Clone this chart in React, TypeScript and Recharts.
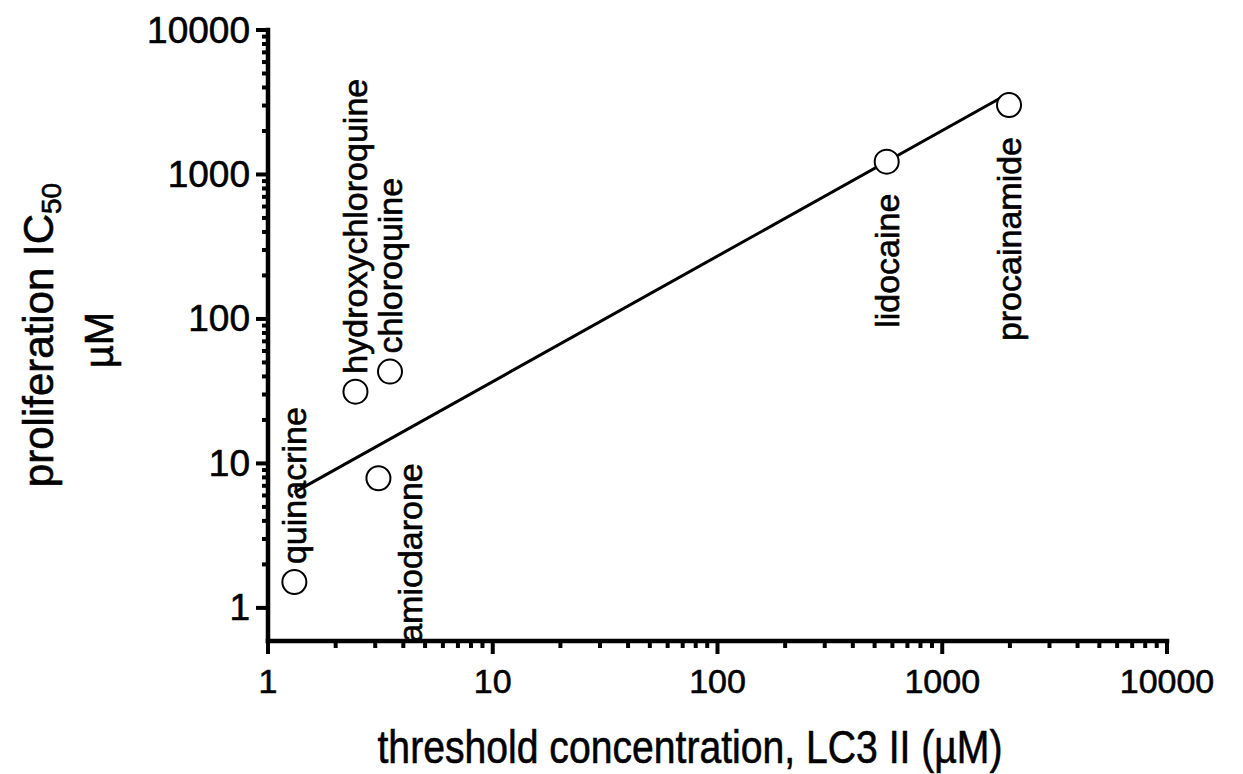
import { ReferenceLine, Scatter, ScatterChart, XAxis, YAxis } from "recharts";

// drug names and the measured values (µM)
const drugs = ["quinacrine", "hydroxychloroquine", "chloroquine", "amiodarone", "lidocaine", "procainamide"];
const thresholdLC3 = [1.31, 2.45, 3.49, 3.1, 566, 1982];
const prolifIC50 = [1.51, 31.4, 43.2, 7.9, 1227, 3027];

// regression line end points
const fitX = [1.31, 1982];
const fitY = [6.3, 3650];

const decades = [1, 10, 100, 1000, 10000];
const xTicks = [1, 2, 3, 4, 5, 6, 7, 8, 9, 10, 20, 30, 40, 50, 60, 70, 80, 90, 100, 200, 300, 400, 500, 600, 700, 800, 900, 1000, 2000, 3000, 4000, 5000, 6000, 7000, 8000, 9000, 10000];
const yTicks = xTicks;
const xMin = 1;
const yMin = 0.59;

const points = drugs.map((name, i) => ({ name, x: thresholdLC3[i], y: prolifIC50[i] }));
const fitLine = fitX.map((x, i) => ({ x, y: fitY[i] }));

const FONT = "'Liberation Sans', Arial, sans-serif";
const TEXT_STROKE = { stroke: "#000", strokeWidth: 0.6 };

// where each label sits relative to its circle
const labelSide: Record<string, string> = {
  quinacrine: "above",
  hydroxychloroquine: "above",
  chloroquine: "above",
  amiodarone: "right",
  lidocaine: "below",
  procainamide: "below",
};

const isMajor = (v: number) => decades.includes(v);

function XTick(props: any) {
  const { x, y, payload } = props;
  const major = isMajor(payload.value);
  return (
    <g>
      <line x1={x} x2={x} y1={y} y2={y + (major ? 13 : 7)} stroke="#000" strokeWidth={4} />
      {major && (
        <text x={x} y={y + 52} textAnchor="middle" fontSize={34} fontFamily={FONT} fill="#000" {...TEXT_STROKE}>
          {payload.value}
        </text>
      )}
    </g>
  );
}

function YTick(props: any) {
  const { x, y, payload } = props;
  const major = isMajor(payload.value);
  return (
    <g>
      <line x1={x} x2={x - (major ? 12 : 6)} y1={y} y2={y} stroke="#000" strokeWidth={4} />
      {major && (
        <text x={x - 18} y={y} textAnchor="end" dominantBaseline="central" fontSize={37} fontFamily={FONT} fill="#000" {...TEXT_STROKE}>
          {payload.value}
        </text>
      )}
    </g>
  );
}

function DrugPoint(props: any) {
  const { cx, cy, payload } = props;
  const side = labelSide[payload.name];
  let tx = cx;
  let ty = cy - 18;
  let anchor = "start";
  if (side === "below") {
    ty = cy + 32;
    anchor = "end";
  } else if (side === "right") {
    tx = cx + 32;
    ty = cy - 15;
    anchor = "end";
  }
  return (
    <g>
      <circle cx={cx} cy={cy} r={12} fill="#fff" stroke="#000" strokeWidth={2} />
      <text
        x={tx}
        y={ty}
        transform={`rotate(-90, ${tx}, ${ty})`}
        textAnchor={anchor}
        dominantBaseline="central"
        fontSize={34}
        fontFamily={FONT}
        fill="#000"
        {...TEXT_STROKE}
      >
        {payload.name}
      </text>
    </g>
  );
}

export default function App() {
  return (
    <div style={{ position: "absolute", left: 0, top: 0, width: 1243, height: 774, background: "#fff" }}>
      <ScatterChart width={1243} height={774} margin={{ top: 30, right: 76, bottom: 53, left: 148 }}>
        <XAxis
          type="number"
          dataKey="x"
          scale="log"
          domain={[xMin, 10000]}
          ticks={xTicks}
          interval={0}
          tickSize={0}
          tickMargin={0}
          tickLine={false}
          axisLine={false}
          tick={<XTick />}
          height={80}
          allowDataOverflow
        />
        <YAxis
          type="number"
          dataKey="y"
          scale="log"
          domain={[yMin, 10000]}
          ticks={yTicks}
          interval={0}
          tickSize={0}
          tickMargin={0}
          tickLine={false}
          axisLine={false}
          tick={<YTick />}
          width={120}
          allowDataOverflow
        />
        {/* thick axis lines, GraphPad style */}
        <ReferenceLine x={xMin} stroke="#000" strokeWidth={4.5} strokeLinecap="square" ifOverflow="visible" />
        <ReferenceLine y={yMin} stroke="#000" strokeWidth={4.5} strokeLinecap="square" ifOverflow="visible" />
        <Scatter
          data={fitLine}
          line={{ stroke: "#000", strokeWidth: 3 }}
          lineType="joint"
          shape={() => <g />}
          isAnimationActive={false}
        />
        <Scatter data={points} shape={<DrugPoint />} isAnimationActive={false} />
        <text x={690} y={763} textAnchor="middle" fontSize={46} textLength={625} lengthAdjust="spacingAndGlyphs" fontFamily={FONT} fill="#000" {...TEXT_STROKE}>
          threshold concentration, LC3 II (µM)
        </text>
        <text x={53} y={335} transform="rotate(-90, 53, 335)" textAnchor="middle" fontSize={42} fontFamily={FONT} fill="#000" {...TEXT_STROKE}>
          proliferation IC<tspan dy={8} fontSize={28}>50</tspan>
        </text>
        <text x={113} y={340} transform="rotate(-90, 113, 340)" textAnchor="middle" fontSize={40} fontFamily={FONT} fill="#000" {...TEXT_STROKE}>
          µM
        </text>
      </ScatterChart>
    </div>
  );
}
